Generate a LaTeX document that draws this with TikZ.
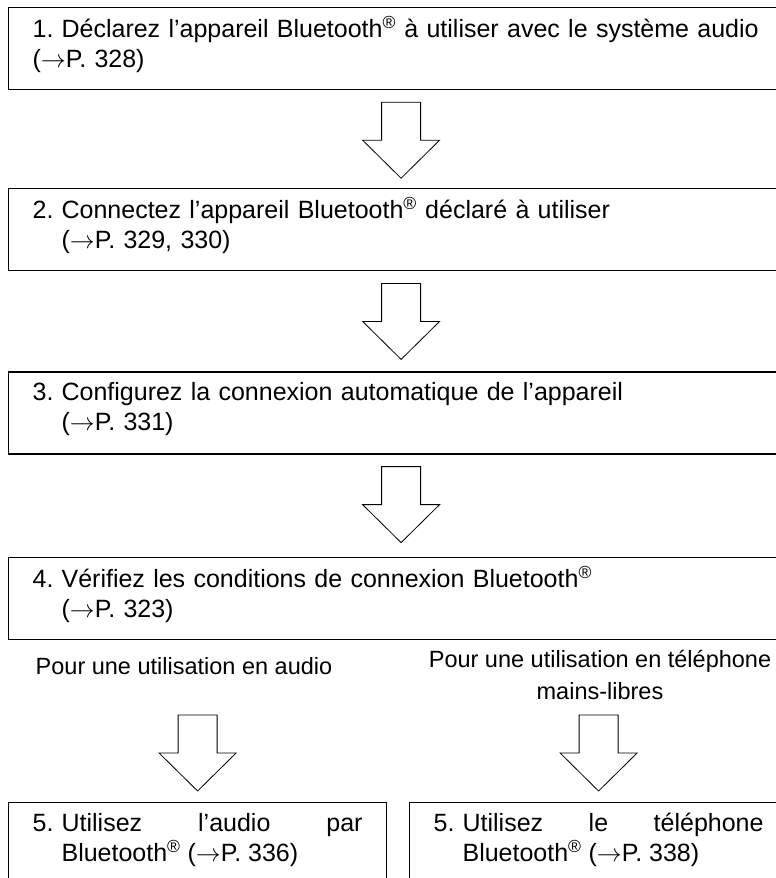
\documentclass[tikz,border=0pt]{standalone}
\usepackage{fontspec}
\setmainfont{Liberation Sans}
\usepackage{tikz}
\usetikzlibrary{positioning, calc}

% number in a 29pt slot, then the text; hang=1 indents the lines after the first
\newcommand{\steptext}[3][1]{\ifnum#1=1 \hangindent=29pt\hangafter=1 \fi\noindent\makebox[29pt][l]{#2}#3\par\vskip8pt\hrule height 0pt width 0pt}
\newcommand{\regmark}{\textsuperscript{®}}
\newcommand{\seepage}[1]{($\rightarrow$P.~#1)}

\tikzset{
  stepbox/.style={rectangle, draw=black, line width=1.2pt, anchor=north west, minimum height=82pt, inner xsep=24pt, inner ysep=0pt, align=left, font=\fontsize{25}{30}\selectfont},
  widebox/.style={stepbox, text width=740pt, minimum width=788pt},
  halfbox/.style={stepbox, text width=330pt, minimum width=378pt, align=justify},
  choicelabel/.style={font=\fontsize{23.5}{32}\selectfont, align=center, inner sep=0pt},
  blockarrow/.pic={\draw[line width=0.8pt, line join=miter] (-19.5pt,0) -- (19.5pt,0) -- (19.5pt,-38pt) -- (38.5pt,-38pt) -- (0,-76pt) -- (-38.5pt,-38pt) -- (-19.5pt,-38pt) -- cycle;}
}

\begin{document}
\begin{tikzpicture}
  \useasboundingbox (0,0) rectangle (776pt,-878pt);
  \clip (0,0) rectangle (776pt,-878pt);

  % steps 1 to 4
  \node[widebox] (declare) at (8pt,-7pt) {\steptext[0]{1.}{Déclarez l’appareil Bluetooth\regmark{} à utiliser avec le système audio\newline\seepage{328}}};
  \node[widebox, below=98pt of declare.south west, anchor=north west] (connect) {\steptext{2.}{Connectez l’appareil Bluetooth\regmark{} déclaré à utiliser\newline\seepage{329, 330}}};
  \node[widebox, below=100pt of connect.south west, anchor=north west] (autoconn) {\steptext{3.}{Configurez la connexion automatique de l’appareil\newline\seepage{331}}};
  \node[widebox, below=102pt of autoconn.south west, anchor=north west] (check) {\steptext{4.}{Vérifiez les conditions de connexion Bluetooth\regmark\newline\seepage{323}}};

  \pic at ($(declare.south)+(-1.5pt,-12pt)$) {blockarrow};
  \pic at ($(connect.south)+(-1.5pt,-12pt)$) {blockarrow};
  \pic at ($(autoconn.south)+(-1.5pt,-12pt)$) {blockarrow};

  % two ways
  \node[choicelabel, anchor=base] (audiolbl) at (184pt,-674pt) {Pour une utilisation en audio};
  \node[choicelabel, anchor=north] (phonelbl) at (600pt,-650pt) {Pour une utilisation en téléphone\\mains-libres};

  \node[halfbox] (useaudio) at (8pt,-802pt) {\steptext{5.}{Utilisez l’audio par\linebreak Bluetooth\regmark{} \seepage{336}}};
  \node[halfbox] (usephone) at (409pt,-802pt) {\steptext{5.}{Utilisez le téléphone\linebreak Bluetooth\regmark{} \seepage{338}}};

  \pic at ($(useaudio.north)+(0,87pt)$) {blockarrow};
  \pic at ($(usephone.north)+(0,87pt)$) {blockarrow};
\end{tikzpicture}
\end{document}
